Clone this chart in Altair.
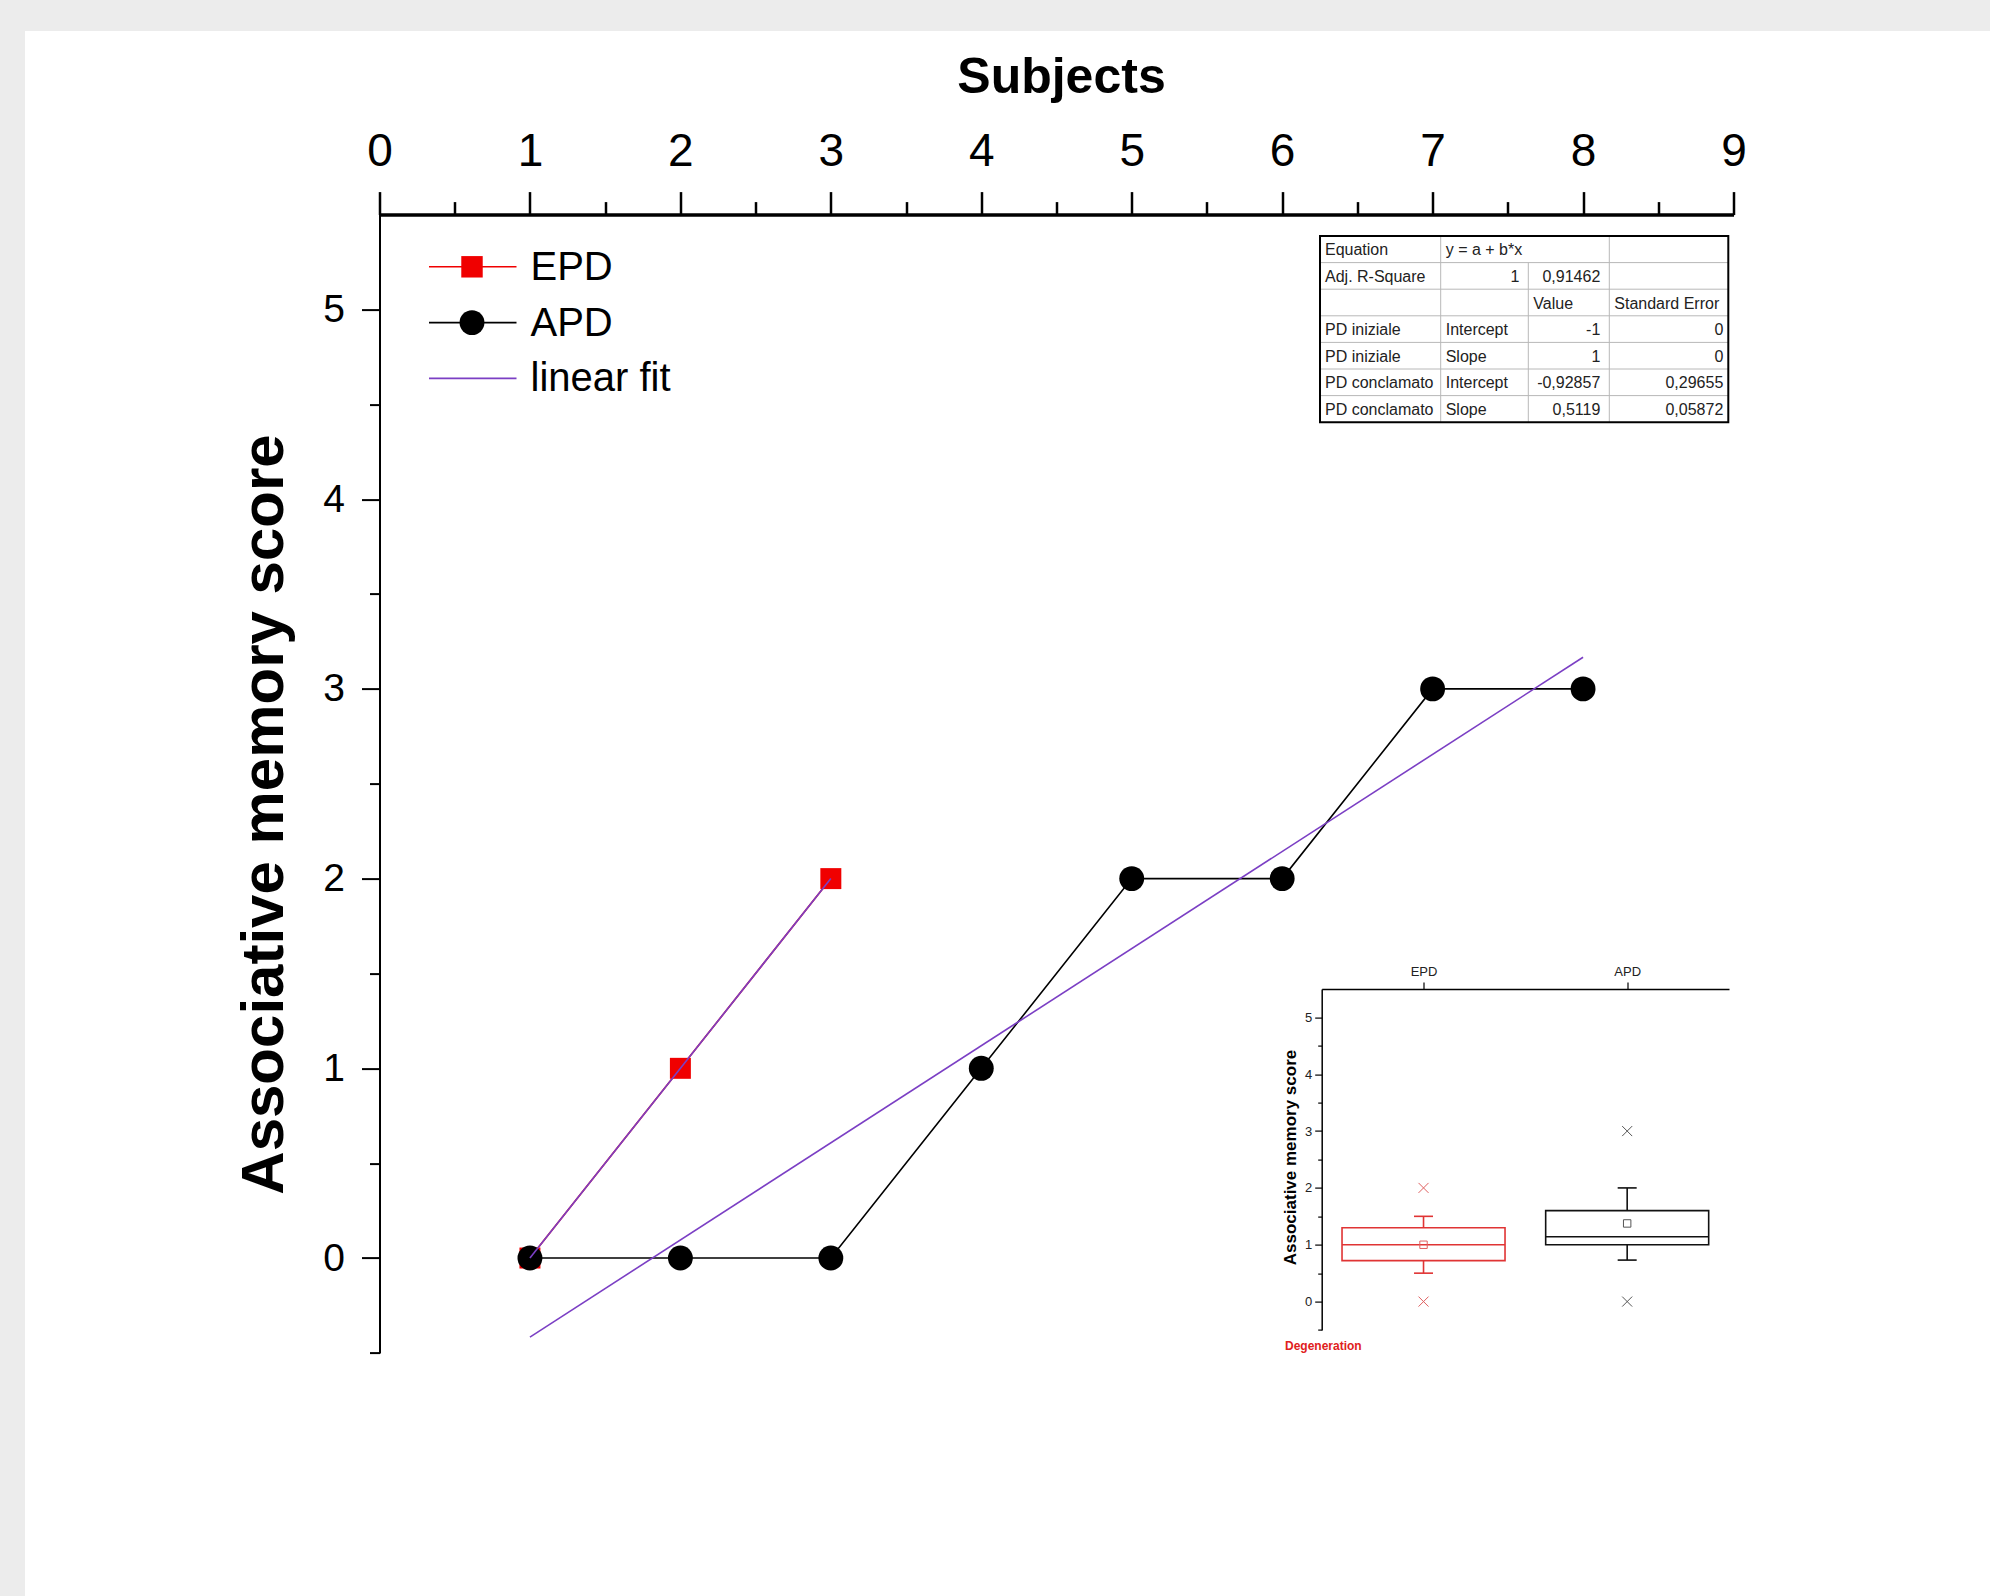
import altair as alt
import pandas as pd

# ---------------- data ----------------
EPD_SUBJECTS = [1, 2, 3]
EPD_SCORES = [0, 1, 2]
APD_SUBJECTS = [1, 2, 3, 4, 5, 6, 7, 8]
APD_SCORES = [0, 0, 0, 1, 2, 2, 3, 3]

X_DOMAIN = [0, 9]
Y_DOMAIN = [-0.5, 5.5]
X_TICK_VALUES = [i / 2 for i in range(0, 19)]        # 0 .. 9 (labels on integers)
Y_TICK_VALUES = [i / 2 for i in range(-1, 11)]       # -0.5 .. 5 (labels on integers)

LEGEND_LABELS = ["EPD", "APD", "linear fit"]

TABLE_COL_1 = ["Equation", "Adj. R-Square", "", "PD iniziale", "PD iniziale", "PD conclamato", "PD conclamato"]
TABLE_COL_2 = ["y = a + b*x", "1", "", "Intercept", "Slope", "Intercept", "Slope"]
TABLE_COL_3 = ["", "0,91462", "Value", "-1", "1", "-0,92857", "0,5119"]
TABLE_COL_4 = ["", "", "Standard Error", "0", "0", "0,29655", "0,05872"]

BOX_GROUPS = ["EPD", "APD"]
BOX_Q1 = [0.72, 1.0]
BOX_Q3 = [1.3, 1.6]
BOX_MEDIAN = [1.0, 1.14]
BOX_MEAN = [1.0, 1.375]
BOX_WHISKER_LO = [0.5, 0.73]
BOX_WHISKER_HI = [1.5, 2.0]
BOX_MIN = [0, 0]
BOX_MAX = [2, 3]

INSET_FOOTNOTE = "Degeneration"

# ---------------- layout / style ----------------
PAGE_W, PAGE_H = 1990, 1596
OX, OY = 379.5, 214.6          # plot area origin on the page
W, H = 1354.0, 1138.3          # plot area size

SANS = "Liberation Sans, Arial, sans-serif"
NARROW = "Liberation Sans Narrow, Arial Narrow, Liberation Sans, sans-serif"
RED = "#f00000"
PURPLE = "#7b3fc4"
INSET_COLORS = ["#e03434", "#111111"]
INSET_MARK_COLORS = ["#e06060", "#555555"]


def rx(x):
    return x - OX


def ry(y):
    return y - OY


MAJOR = "datum.value % 1 === 0"
INT_LABEL = f"{MAJOR} ? format(datum.value, 'd') : ''"

main_x_scale = alt.Scale(domain=X_DOMAIN, nice=False, zero=False)
main_y_scale = alt.Scale(domain=Y_DOMAIN, nice=False, zero=False)

x_axis = alt.Axis(
    orient="top", values=X_TICK_VALUES, labelExpr=INT_LABEL,
    tickSize={"condition": {"test": MAJOR, "value": 23}, "value": 13},
    tickWidth=2.5, tickColor="black", domainColor="black", domainWidth=3.5,
    labelFont=NARROW, labelFontSize=46, labelColor="black", labelPadding=16,
    labelOverlap=False, labelFlush=False, grid=False,
    title="Subjects", titleFont=SANS, titleFontSize=50, titleFontWeight="bold",
    titleColor="black", titleX=rx(1061), titleY=ry(92), titleAlign="center",
    titleBaseline="alphabetic", titleAngle=0, zindex=2,
)

y_axis = alt.Axis(
    orient="left", values=Y_TICK_VALUES, labelExpr=INT_LABEL,
    tickSize={"condition": {"test": MAJOR, "value": 18}, "value": 10},
    tickWidth=2, tickColor="black", domainColor="black", domainWidth=2,
    labelFont=SANS, labelFontSize=39, labelColor="black", labelPadding=17,
    labelOverlap=False, labelFlush=False, grid=False,
    title="Associative memory score", titleFont=SANS, titleFontSize=60,
    titleFontWeight="bold", titleColor="black", titleAngle=270,
    titleX=rx(282.0), titleY=ry(814), titleAlign="center", titleBaseline="alphabetic",
    zindex=2,
)


def mx(axis=None):
    return alt.X("subject:Q", scale=main_x_scale, axis=axis)


def my(axis=None):
    return alt.Y("score:Q", scale=main_y_scale, axis=axis)


main_df = pd.DataFrame({
    "subject": EPD_SUBJECTS + APD_SUBJECTS,
    "score": EPD_SCORES + APD_SCORES,
    "series": ["EPD"] * len(EPD_SUBJECTS) + ["APD"] * len(APD_SUBJECTS),
})
epd_df = main_df[main_df.series == "EPD"]
apd_df = main_df[main_df.series == "APD"]

one = pd.DataFrame({"k": [0]})

# white page panel on the grey frame
panel = alt.Chart(one).mark_rect(color="white").encode(
    x=alt.value(rx(25)), x2=alt.value(PAGE_W - OX + 20),
    y=alt.value(ry(31)), y2=alt.value(PAGE_H - OY + 20),
)

epd_line = alt.Chart(epd_df).mark_line(color=RED, strokeWidth=1.6).encode(x=mx(), y=my())
apd_line = alt.Chart(apd_df).mark_line(color="black", strokeWidth=1.6).encode(
    x=mx(x_axis), y=my(y_axis))
epd_pts = alt.Chart(epd_df).mark_point(shape="square", filled=True, size=440, color=RED,
                                       opacity=1).encode(x=mx(), y=my())
apd_pts = alt.Chart(apd_df).mark_point(shape="circle", filled=True, size=620, color="black",
                                       opacity=1).encode(x=mx(), y=my())
fit = alt.Chart(main_df).transform_regression(
    "subject", "score", groupby=["series"]
).mark_line(color=PURPLE, strokeWidth=1.6).encode(x=mx(), y=my(), detail="series:N")

# ---------------- legend ----------------
LEG_Y0, LEG_STEP = 266.8, 55.8
LEG_COLORS = [RED, "black", PURPLE]
LEG_SHAPES = ["square", "circle", None]
LEG_SIZES = [460, 620, 0]
legend_layers = []
for i, lab in enumerate(LEGEND_LABELS):
    yv = ry(LEG_Y0 + i * LEG_STEP)
    ldf = pd.DataFrame({"label": [lab]})
    legend_layers.append(
        alt.Chart(ldf).mark_rule(color=LEG_COLORS[i], strokeWidth=1.6).encode(
            x=alt.value(rx(429)), x2=alt.value(rx(516.5)), y=alt.value(yv)))
    if LEG_SHAPES[i]:
        legend_layers.append(
            alt.Chart(ldf).mark_point(shape=LEG_SHAPES[i], filled=True, size=LEG_SIZES[i],
                                      color=LEG_COLORS[i], opacity=1).encode(
                x=alt.value(rx(472)), y=alt.value(yv)))
    legend_layers.append(
        alt.Chart(ldf).mark_text(align="left", baseline="middle", font=SANS, fontSize=40,
                                 color="black").encode(
            x=alt.value(rx(530.5)), y=alt.value(yv + 1), text="label:N"))

# ---------------- fit table ----------------
TBL_COLS = [1320, 1440.7, 1528.3, 1609.3, 1728.3]
TBL_TOP, TBL_ROW_H = 236.0, 26.6
RIGHT_PAD = [4, 9, 9, 5]
table_cols = [TABLE_COL_1, TABLE_COL_2, TABLE_COL_3, TABLE_COL_4]
n_rows = len(TABLE_COL_1)
cells_l, cells_r = [], []
for c, col in enumerate(table_cols):
    for r, txt in enumerate(col):
        if not txt:
            continue
        ty = ry(TBL_TOP + (r + 0.5) * TBL_ROW_H + 1)
        try:
            float(txt.replace(",", "."))
            cells_r.append({"t": txt, "tx": rx(TBL_COLS[c + 1] - RIGHT_PAD[c]), "ty": ty})
        except ValueError:
            cells_l.append({"t": txt, "tx": rx(TBL_COLS[c] + 5), "ty": ty})

grid = []
for r in range(1, n_rows):
    yy = ry(TBL_TOP + r * TBL_ROW_H)
    grid.append({"x": rx(TBL_COLS[0]), "x2": rx(TBL_COLS[4]), "y": yy, "y2": yy})
for c, r0 in [(1, 0), (2, 1), (3, 0)]:
    grid.append({"x": rx(TBL_COLS[c]), "x2": rx(TBL_COLS[c]),
                 "y": ry(TBL_TOP + r0 * TBL_ROW_H), "y2": ry(TBL_TOP + n_rows * TBL_ROW_H)})

tx_enc = dict(x=alt.X("tx:Q", scale=None, axis=None), y=alt.Y("ty:Q", scale=None, axis=None),
              text="t:N")
table_grid = alt.Chart(pd.DataFrame(grid)).mark_rule(color="#b8b8b8", strokeWidth=1).encode(
    x=alt.X("x:Q", scale=None, axis=None), x2="x2:Q",
    y=alt.Y("y:Q", scale=None, axis=None), y2="y2:Q")
table_border = alt.Chart(one).mark_rect(fillOpacity=0, stroke="black", strokeWidth=2).encode(
    x=alt.value(rx(TBL_COLS[0])), x2=alt.value(rx(TBL_COLS[4])),
    y=alt.value(ry(TBL_TOP)), y2=alt.value(ry(TBL_TOP + n_rows * TBL_ROW_H)))
table_text_l = alt.Chart(pd.DataFrame(cells_l)).mark_text(
    align="left", baseline="middle", font=SANS, fontSize=16, color="#222222").encode(**tx_enc)
table_text_r = alt.Chart(pd.DataFrame(cells_r)).mark_text(
    align="right", baseline="middle", font=SANS, fontSize=16, color="#222222").encode(**tx_enc)

# ---------------- inset box chart ----------------
INS_LEFT, INS_RIGHT, INS_TOP, INS_BOTTOM = 1321.7, 1729.0, 989.0, 1330.0
ins_x_scale = alt.Scale(type="point", domain=BOX_GROUPS, range=[rx(INS_LEFT), rx(INS_RIGHT)],
                        padding=0.5)
ins_y_scale = alt.Scale(domain=Y_DOMAIN, range=[ry(INS_BOTTOM), ry(INS_TOP)], nice=False,
                        zero=False)

ins_x_axis = alt.Axis(
    orient="top", offset=-ry(INS_TOP), tickSize=7, tickWidth=1.2, tickColor="black",
    domainColor="black", domainWidth=1.5, labelFont=SANS, labelFontSize=13,
    labelColor="#222222", labelPadding=4, labelAngle=0, title=None, grid=False, zindex=2)
ins_y_axis = alt.Axis(
    orient="left", offset=-rx(INS_LEFT), values=Y_TICK_VALUES, labelExpr=INT_LABEL,
    tickSize={"condition": {"test": MAJOR, "value": 7}, "value": 4},
    tickWidth=1.2, tickColor="black", domainColor="black", domainWidth=1.5,
    labelFont=SANS, labelFontSize=13, labelColor="#222222", labelPadding=3,
    labelOverlap=False, labelFlush=False, grid=False,
    title="Associative memory score", titleFont=SANS, titleFontSize=17, titleFontWeight="bold",
    titleColor="black", titleAngle=270, titleX=1295 - INS_LEFT, titleY=ry(1157),
    titleAlign="center", titleBaseline="alphabetic", zindex=2)

box_df = pd.DataFrame({
    "group": BOX_GROUPS, "q1": BOX_Q1, "q3": BOX_Q3, "median": BOX_MEDIAN,
    "mean": BOX_MEAN, "wlo": BOX_WHISKER_LO, "whi": BOX_WHISKER_HI,
})
whisk_df = pd.DataFrame({
    "group": BOX_GROUPS * 2,
    "lo": BOX_WHISKER_LO + BOX_Q3,
    "hi": BOX_Q1 + BOX_WHISKER_HI,
})
cap_df = pd.DataFrame({"group": BOX_GROUPS * 2, "v": BOX_WHISKER_LO + BOX_WHISKER_HI})
ext_df = pd.DataFrame({"group": BOX_GROUPS * 2, "v": BOX_MIN + BOX_MAX})


def ix(axis=None):
    return alt.X("group:N", scale=ins_x_scale, axis=axis, sort=BOX_GROUPS)


def iy(field, axis=None):
    return alt.Y(f"{field}:Q", scale=ins_y_scale, axis=axis)


box_color = alt.Color("group:N", scale=alt.Scale(domain=BOX_GROUPS, range=INSET_COLORS),
                      legend=None)
mark_color = alt.Color("group:N", scale=alt.Scale(domain=BOX_GROUPS, range=INSET_MARK_COLORS),
                       legend=None)

ins_box = alt.Chart(box_df).mark_bar(filled=False, size=163, strokeWidth=1.6).encode(
    x=ix(ins_x_axis), y=iy("q1", ins_y_axis), y2="q3:Q", color=box_color)
ins_median = alt.Chart(box_df).mark_tick(size=163, thickness=1.6, opacity=1).encode(
    x=ix(), y=iy("median"), color=box_color)
ins_whisk = alt.Chart(whisk_df).mark_rule(strokeWidth=1.6).encode(
    x=ix(), y=iy("lo"), y2="hi:Q", color=box_color)
ins_caps = alt.Chart(cap_df).mark_tick(size=19, thickness=1.6, opacity=1).encode(
    x=ix(), y=iy("v"), color=box_color)
ins_mean = alt.Chart(box_df).mark_point(shape="square", size=55, filled=False, strokeWidth=1,
                                        opacity=1).encode(x=ix(), y=iy("mean"), color=mark_color)
ins_ext = alt.Chart(ext_df).mark_point(shape="M-1,-1L1,1M-1,1L1,-1", size=100, filled=False,
                                       strokeWidth=1, opacity=1).encode(
    x=ix(), y=iy("v"), color=mark_color)

foot = alt.Chart(pd.DataFrame({"t": [INSET_FOOTNOTE]})).mark_text(
    align="left", baseline="middle", font=SANS, fontSize=12, fontWeight="bold",
    color="#e02020").encode(x=alt.value(rx(1285)), y=alt.value(ry(1346)), text="t:N")

chart = alt.layer(
    panel, table_grid, table_border, table_text_l, table_text_r,
    epd_line, apd_line, epd_pts, apd_pts, fit,
    *legend_layers,
    ins_box, ins_median, ins_whisk, ins_caps, ins_mean, ins_ext, foot,
).resolve_scale(
    x="independent", y="independent", color="independent"
).properties(
    width=W, height=H,
    padding={"left": OX, "top": OY, "right": PAGE_W - OX - W, "bottom": PAGE_H - OY - H},
    autosize=alt.AutoSizeParams(type="none"),
    background="#ececec",
).configure_view(stroke=None)

chart.save("out.html", embed_options={"renderer": "svg", "actions": False})
